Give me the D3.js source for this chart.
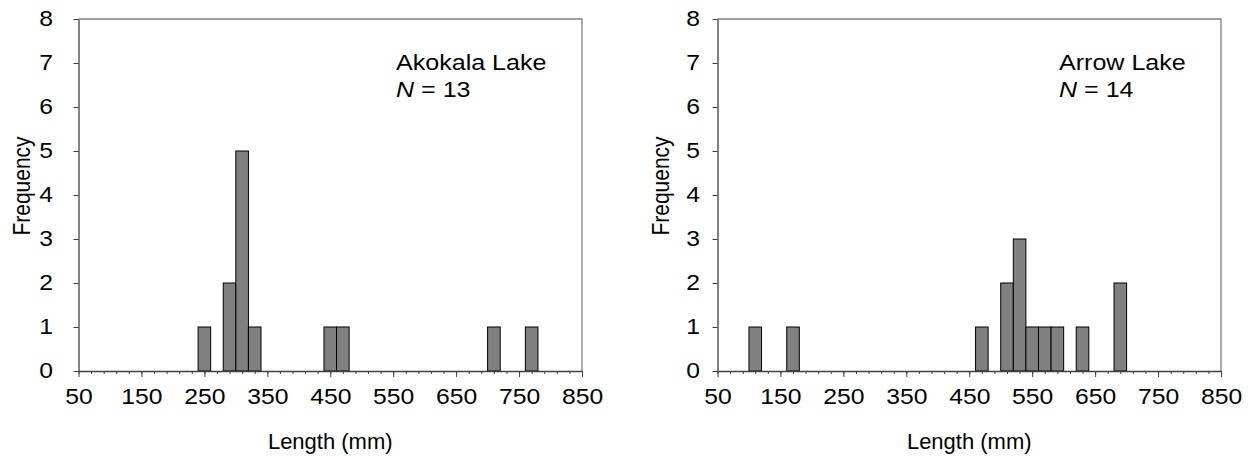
<!DOCTYPE html>
<html>
<head>
<meta charset="utf-8">
<script src="https://cdn.jsdelivr.net/npm/d3@7"></script>
<style>
  body { margin: 0; background: #fff; }
  svg { display: block; font-family: "Liberation Sans", Arial, sans-serif; }
</style>
</head>
<body>
<svg id="chart" width="1251" height="457"></svg>
<script>
// length-frequency data, 20 mm bins (bin centres)
var akokalaBins = [250, 290, 310, 330, 450, 470, 710, 770];
var akokalaCounts = [1, 2, 5, 1, 1, 1, 1, 1];
var arrowBins = [110, 170, 470, 510, 530, 550, 570, 590, 630, 690];
var arrowCounts = [1, 1, 1, 2, 3, 1, 1, 1, 1, 2];

var binWidth = 20;
var xMajorTicks = [50, 150, 250, 350, 450, 550, 650, 750, 850];
var xMinorTicks = d3.range(50, 851, 20);
var yTicks = [0, 1, 2, 3, 4, 5, 6, 7, 8];

var panels = [
  {name: 'Akokala Lake', n: 13, bins: akokalaBins, counts: akokalaCounts,
   x0: 78.5, x1: 582, labelX: 396, yLabelX: 30, yTickGap: 25.5},
  {name: 'Arrow Lake', n: 14, bins: arrowBins, counts: arrowCounts,
   x0: 717.5, x1: 1221, labelX: 1059, yLabelX: 669, yTickGap: 17.5}
];

var svg = d3.select('#chart');
var plotTop = 19, plotBottom = 371;
// the original figure was stretched sideways, so its text is wider than normal
var stretch = 1.15;
var fontSize = 21.5;

function drawPanel(p) {
  var x = d3.scaleLinear().domain([50, 850]).range([p.x0, p.x1]);
  var y = d3.scaleLinear().domain([0, 8]).range([plotBottom, plotTop]);
  var g = svg.append('g');

  // plot area frame (top and right)
  g.append('path')
    .attr('d', `M${p.x0},${plotTop} H${p.x1} V${plotBottom}`)
    .attr('fill', 'none')
    .attr('stroke', '#808080')
    .attr('stroke-width', 1.3);

  var data = p.bins.map((b, i) => ({bin: b, count: p.counts[i]}));
  g.selectAll('rect.bar').data(data).enter().append('rect')
    .attr('class', 'bar')
    .attr('x', d => x(d.bin - binWidth / 2))
    .attr('width', d => x(d.bin + binWidth / 2) - x(d.bin - binWidth / 2))
    .attr('y', d => y(d.count))
    .attr('height', d => y(0) - y(d.count))
    .attr('fill', '#808080')
    .attr('stroke', '#000')
    .attr('stroke-width', 1);

  // y axis
  var yAxis = g.append('g')
    .attr('transform', `translate(${p.x0},0)`)
    .call(d3.axisLeft(y).tickValues(yTicks).tickSize(5).tickSizeOuter(0).tickFormat(d3.format('d')));
  yAxis.select('.domain').attr('stroke', '#404040').attr('stroke-width', 1.3);
  yAxis.selectAll('.tick line').attr('stroke', '#404040');
  yAxis.selectAll('text')
    .attr('font-size', fontSize).attr('fill', '#000')
    .attr('x', -p.yTickGap / stretch)
    .attr('transform', `scale(${stretch},1)`);

  // x axis, minor ticks then major
  var xMinor = g.append('g')
    .attr('transform', `translate(0,${plotBottom})`)
    .call(d3.axisBottom(x).tickValues(xMinorTicks).tickSize(3).tickFormat(''));
  xMinor.select('.domain').remove();
  xMinor.selectAll('.tick line').attr('stroke', '#404040');

  var xAxis = g.append('g')
    .attr('transform', `translate(0,${plotBottom})`)
    .call(d3.axisBottom(x).tickValues(xMajorTicks).tickSize(6).tickSizeOuter(0).tickPadding(12));
  xAxis.select('.domain').attr('stroke', '#404040').attr('stroke-width', 1.3);
  xAxis.selectAll('.tick line').attr('stroke', '#404040');
  xAxis.selectAll('text')
    .attr('font-size', fontSize).attr('fill', '#000')
    .attr('transform', `scale(${stretch},1)`);

  // axis titles
  g.append('text')
    .attr('x', (p.x0 + p.x1) / 2)
    .attr('y', 449)
    .attr('text-anchor', 'middle')
    .attr('font-size', 22)
    .text('Length (mm)');
  g.append('text')
    .attr('transform', `translate(${p.yLabelX},186) scale(${stretch},1) rotate(-90)`)
    .attr('text-anchor', 'middle')
    .attr('font-size', 21)
    .text('Frequency');

  // lake name and sample size
  g.append('text')
    .attr('transform', `translate(${p.labelX},70) scale(${stretch},1)`)
    .attr('font-size', 21.8)
    .text(p.name);
  var nText = g.append('text')
    .attr('transform', `translate(${p.labelX},97) scale(${stretch},1)`)
    .attr('font-size', 21.8);
  nText.append('tspan').attr('font-style', 'italic').text('N');
  nText.append('tspan').text(' = ' + p.n);
}

panels.forEach(drawPanel);
</script>
</body>
</html>
